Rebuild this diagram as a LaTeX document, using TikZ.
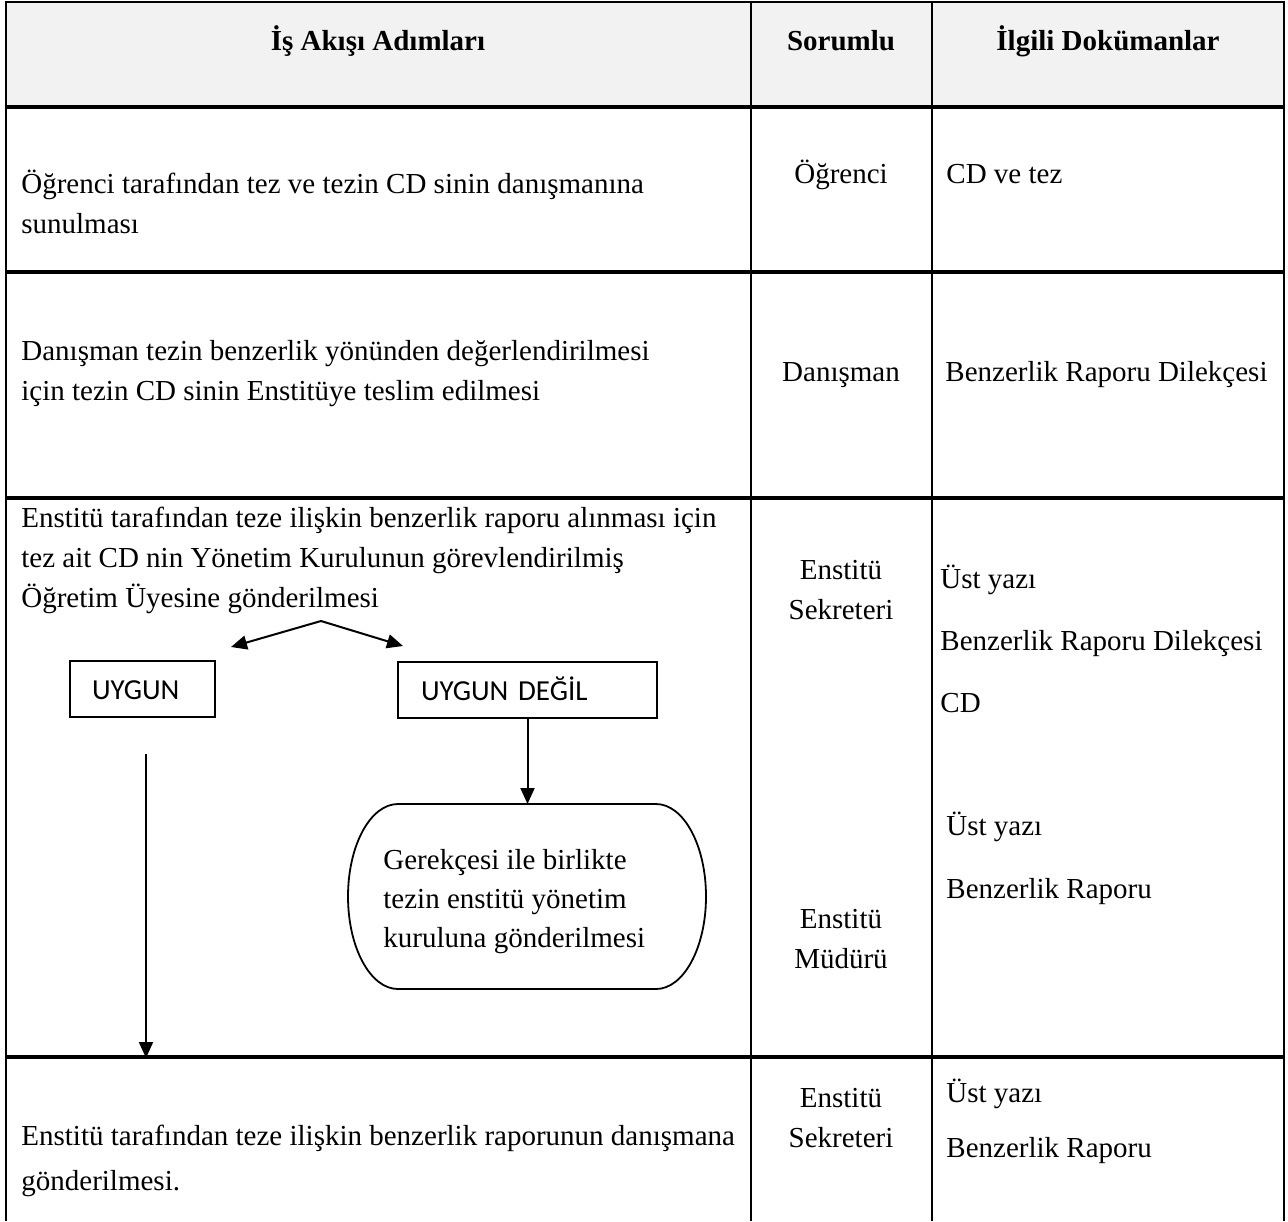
\documentclass[tikz,border=0pt]{standalone}
\usepackage{fontspec}
\setmainfont{Liberation Serif}
\newfontfamily\boxfont{Carlito}
\usetikzlibrary{arrows.meta,positioning}
\tikzset{>={Triangle[length=8pt,width=7pt]}}
\colorlet{headfill}{black!5}
\tikzset{
  celltext/.style={inner sep=0pt,font=\fontsize{14.5}{20}\selectfont},
  lefttext/.style={celltext,anchor=base west,align=left},
  midtext/.style={celltext,anchor=base,align=center},
  headtext/.style={midtext,font=\fontsize{14.5}{20}\selectfont\bfseries},
  choicebox/.style={draw,line width=1pt,font=\boxfont\fontsize{14.5}{18}\selectfont,
    align=left,inner xsep=11pt,inner ysep=0pt,minimum height=28pt,
    text height=10pt,text depth=0pt},
  gridline/.style={line width=1.3pt},
  rowline/.style={line width=1.7pt},
  flowline/.style={line width=1pt}
}
\begin{document}
\begin{tikzpicture}[x=0.5pt,y=-0.5pt]
        \useasboundingbox (0,0) rectangle (1288,1221);
        \fill[headfill] (6,2) rectangle (1284,107);
        \draw[gridline] (6,1221) -- (6,2) -- (1284,2) -- (1284,1221);
        \draw[gridline] (751,2) -- (751,1221);
        \draw[gridline] (932,2) -- (932,1221);
        \draw[rowline] (6,107) -- (1284,107);
        \draw[rowline] (6,272) -- (1284,272);
        \draw[rowline] (6,498) -- (1284,498);
        \draw[rowline] (6,1057) -- (1284,1057);
        \node[headtext] (hsteps) at (378,50) {İş Akışı Adımları};
        \node[headtext] (hresp) at (841,50) {Sorumlu};
        \node[headtext] (hdocs) at (1108,50) {İlgili Dokümanlar};
        \node[lefttext] (stepone) at (21,233) {Öğrenci tarafından tez ve tezin CD sinin danışmanına\\sunulması};
        \node[midtext] (respone) at (841,183) {Öğrenci};
        \node[lefttext] (docone) at (946,183) {CD ve tez};
        \node[lefttext] (steptwo) at (21,400) {Danışman tezin benzerlik yönünden değerlendirilmesi\\için tezin CD sinin Enstitüye teslim edilmesi};
        \node[midtext] (resptwo) at (841,381) {Danışman};
        \node[lefttext] (doctwo) at (945,381) {Benzerlik Raporu Dilekçesi};
        \node[lefttext] (stepthree) at (21,607) {Enstitü tarafından teze ilişkin benzerlik raporu alınması için\\tez ait CD nin Yönetim Kurulunun görevlendirilmiş\\Öğretim Üyesine gönderilmesi};
        \node[midtext] (respthree) at (841,619) {Enstitü\\Sekreteri};
        \node[midtext] (respmgr) at (841,968) {Enstitü\\Müdürü};
        \node[lefttext,font=\fontsize{14.5}{31}\selectfont] (docthree) at (940,712) {Üst yazı\\Benzerlik Raporu Dilekçesi\\CD};
        \node[lefttext,font=\fontsize{14.5}{31.5}\selectfont] (docmgr) at (946,898) {Üst yazı\\Benzerlik Raporu};
        \node[choicebox,text width=50.5pt] (uygun) at (142.5,689) {UYGUN};
        \node[choicebox,text width=106.5pt,inner xsep=11.5pt] (degil) at (527.5,690) {UYGUN DEĞİL};
        \node[lefttext,font=\fontsize{14.5}{19.5}\selectfont] (gerekce) at (383,947)
          {Gerekçesi ile birlikte\\tezin enstitü yönetim\\kuruluna gönderilmesi};
        \node[lefttext,font=\fontsize{14.5}{22.5}\selectfont] (stepfour) at (21,1190) {Enstitü tarafından teze ilişkin benzerlik raporunun danışmana\\gönderilmesi.};
        \node[midtext] (respfour) at (841,1147) {Enstitü\\Sekreteri};
        \node[lefttext,font=\fontsize{14.5}{27.5}\selectfont] (docfour) at (946,1157) {Üst yazı\\Benzerlik Raporu};
        \coordinate (gtl) at (398,804);
        \coordinate (gtr) at (656,804);
        \coordinate (gbl) at (398,989);
        \draw[line width=0.9pt] (gtl) -- (gtr) arc[start angle=90,end angle=-90,x radius=25pt,y radius=46.25pt]
          -- (gbl) arc[start angle=270,end angle=90,x radius=25pt,y radius=46.25pt] -- cycle;
        \coordinate (fork) at (321,621);
        \coordinate (forkL) at (231,647);
        \coordinate (forkR) at (403,646);
        \coordinate (uygunline) at (146,754);
        \coordinate (stepfourtop) at (146,1058);
        \draw[flowline,->] (fork) -- (forkL);
        \draw[flowline,->] (fork) -- (forkR);
        \draw[flowline,->] (degil.south) -- (degil.south |- gtl);
        \draw[flowline,->] (uygunline) -- (stepfourtop);
      \end{tikzpicture}
\end{document}
